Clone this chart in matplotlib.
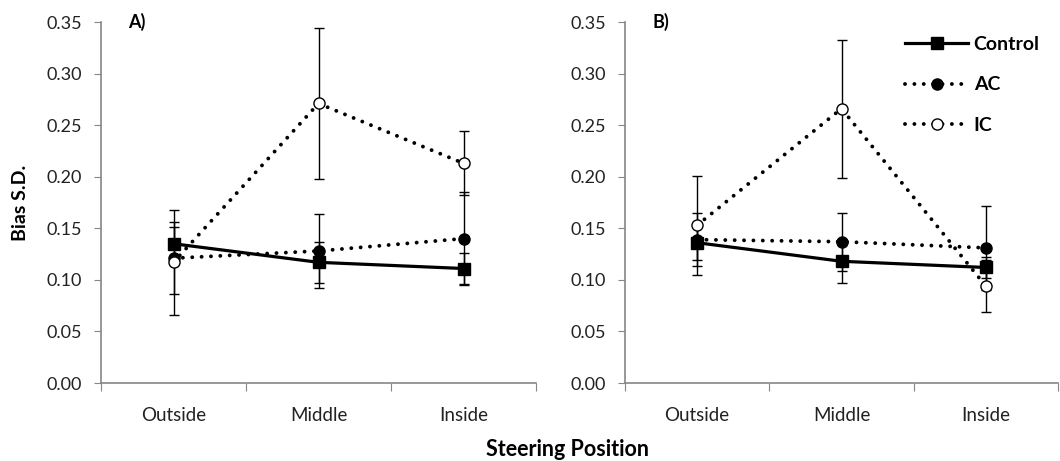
import numpy as np
import matplotlib
matplotlib.use("Agg")
import matplotlib.pyplot as plt

plt.rcParams['font.family'] = ['Lato', 'DejaVu Sans']

positions = ["Outside", "Middle", "Inside"]
yticks = [0.00, 0.05, 0.10, 0.15, 0.20, 0.25, 0.30, 0.35]

# panel A
a_control = [0.135, 0.117, 0.111]
a_control_err = [0.016, 0.020, 0.015]
a_ac = [0.121, 0.128, 0.140]
a_ac_err = [0.035, 0.036, 0.045]
a_ic = [0.117, 0.271, 0.213]
a_ic_err = [0.051, 0.073, 0.031]

# panel B
b_control = [0.136, 0.118, 0.112]
b_control_err = [0.017, 0.021, 0.010]
b_ac = [0.139, 0.137, 0.131]
b_ac_err = [0.026, 0.028, 0.041]
b_ic = [0.153, 0.266, 0.094]
b_ic_err = [0.048, 0.067, 0.025]

W, H = 1060, 461
fig = plt.figure(figsize=(W / 100, H / 100), dpi=100)

ax_a = fig.add_axes([101 / W, 1 - 383 / H, 435 / W, 361 / H])
ax_b = fig.add_axes([625 / W, 1 - 383 / H, 433 / W, 361 / H])

grey = "#868686"
dots = (0, (0.01, 2.4))


def draw(ax, control, control_err, ac, ac_err, ic, ic_err, tag):
    x = np.arange(len(positions))
    eb = dict(ecolor="black", elinewidth=1.0, capsize=3.8, capthick=1.0)
    c1 = ax.errorbar(x, control, yerr=control_err, color="black", lw=2.3,
                     marker="s", ms=9, mfc="black", mec="black",
                     label="Control", zorder=3, **eb)
    c2 = ax.errorbar(x, ac, yerr=ac_err, color="black", lw=2.8, ls=dots,
                     dash_capstyle="round",
                     marker="o", ms=8, mfc="black", mec="black",
                     label="AC", zorder=4, **eb)
    c3 = ax.errorbar(x, ic, yerr=ic_err, color="black", lw=2.8, ls=dots,
                     dash_capstyle="round",
                     marker="o", ms=8, mfc="white", mec="black", mew=1.0,
                     label="IC", zorder=5, **eb)

    ax.set_xlim(-0.5, len(positions) - 0.5)
    ax.set_ylim(0, 0.35)
    ax.set_yticks(yticks)
    ax.set_yticklabels(["%.2f" % v for v in yticks])
    ax.set_xticks(np.arange(len(positions) + 1) - 0.5)
    ax.set_xticklabels([])
    ax.set_xticks(x, minor=True)
    ax.set_xticklabels(positions, minor=True)
    ax.tick_params(axis="x", which="minor", length=0, pad=17, labelsize=13.5,
                   labelcolor="#222222")
    ax.tick_params(axis="x", which="major", length=6, color=grey, direction="out")
    ax.tick_params(axis="y", length=5, color=grey, direction="out", pad=8.5,
                   labelsize=13, labelcolor="#222222")
    for s in ["top", "right"]:
        ax.spines[s].set_visible(False)
    for s in ["left", "bottom"]:
        ax.spines[s].set_color(grey)
        ax.spines[s].set_linewidth(1.2)
    ax.text(0.063, 1.0, tag, transform=ax.transAxes, fontsize=13,
            fontweight="bold", va="center", ha="left")
    return [c1[0], c2[0], c3[0]]


draw(ax_a, a_control, a_control_err, a_ac, a_ac_err, a_ic, a_ic_err, "A)")
handles = draw(ax_b, b_control, b_control_err, b_ac, b_ac_err, b_ic, b_ic_err, "B)")

leg = fig.legend(handles, ["Control", "AC", "IC"], loc="upper left",
                 bbox_to_anchor=(905 / W, 1 - 36 / H),
                 frameon=False, borderpad=0, borderaxespad=0,
                 handlelength=3.25, handletextpad=0.28, labelspacing=1.2,
                 prop={"weight": "bold", "size": 14})

fig.text(21 / W, 1 - 203 / H, "Bias S.D.", rotation=90, fontsize=14,
         fontweight="bold", ha="center", va="center")
fig.text(568 / W, 1 - 449 / H, "Steering Position", fontsize=15.5,
         fontweight="bold", ha="center", va="center")

fig.savefig("out.png", dpi=100)
